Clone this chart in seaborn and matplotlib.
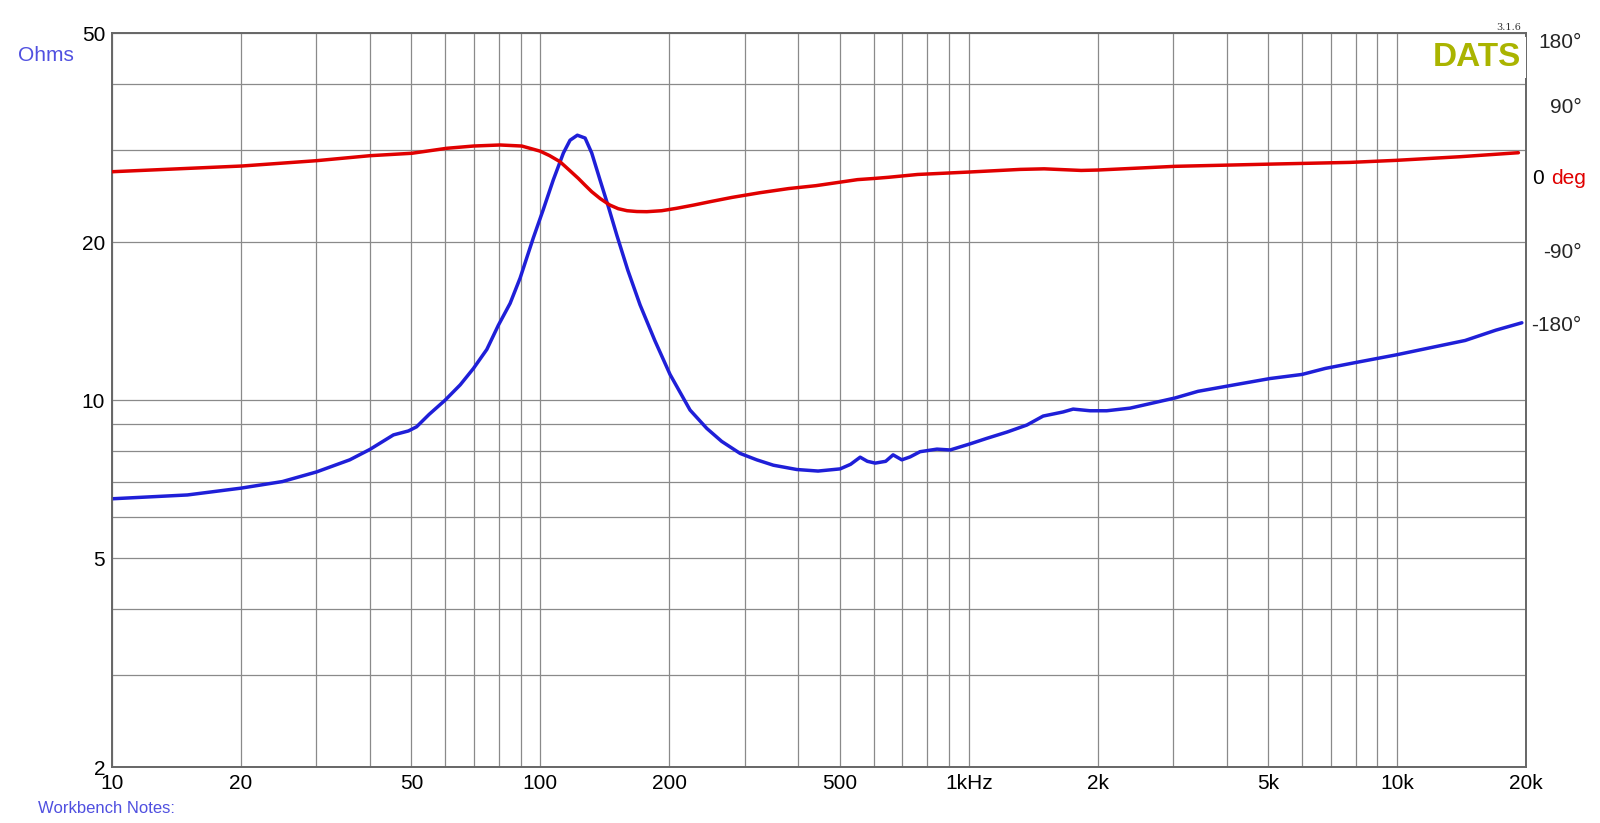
import numpy as np
import pandas as pd
import matplotlib
matplotlib.use("Agg")
import matplotlib.pyplot as plt
import matplotlib.ticker as mticker
import seaborn as sns

# impedance curve (Hz, Ohms)
imp_freq = [10, 15, 20, 25, 30, 35.9, 40, 45.4, 49.2, 51.4, 55, 59.9, 65, 69.8, 75,
            79.8, 85, 89.7, 96.3, 101.6, 107.2, 113.2, 117.3, 122.0, 127.2, 131.8,
            137.8, 144.1, 150.8, 160, 170.9, 185, 200.8, 223.6, 244.6, 265, 292.6,
            320, 350, 396.8, 445, 501, 530, 558, 580, 605, 640, 666, 698, 730, 770,
            843, 905, 1008, 1102, 1230, 1367, 1492, 1661, 1753, 1920, 2100, 2381,
            3030, 3430, 4170, 5050, 6000, 6800, 8000, 9930, 12000, 14420, 17000,
            19560]
imp_ohms = [6.49, 6.6, 6.8, 7.0, 7.3, 7.7, 8.06, 8.59, 8.74, 8.9, 9.4, 10.0, 10.7,
            11.5, 12.5, 13.9, 15.3, 17.1, 20.4, 23.1, 26.3, 29.6, 31.3, 32.0, 31.6,
            29.6, 26.3, 23.4, 20.65, 17.7, 15.2, 13.0, 11.2, 9.58, 8.84, 8.35, 7.92,
            7.7, 7.52, 7.38, 7.33, 7.4, 7.55, 7.79, 7.65, 7.59, 7.65, 7.87, 7.70,
            7.8, 7.98, 8.07, 8.04, 8.26, 8.46, 8.7, 8.97, 9.33, 9.50, 9.62, 9.55,
            9.55, 9.66, 10.1, 10.4, 10.7, 11.0, 11.2, 11.5, 11.8, 12.2, 12.6, 13.0,
            13.6, 14.05]

# phase curve (Hz, degrees)
ph_freq = [10, 20.1, 30, 40, 50.1, 60.5, 69.8, 80.5, 90.5, 99.8, 105, 111.1, 116.5,
           122.6, 127, 131.8, 138, 145.2, 152, 159.4, 168, 177.3, 192, 208, 228,
           249, 280, 326, 380, 440, 550, 600, 650, 760, 1000, 1320, 1500, 1830, 2000,
           3030, 5200, 7775, 9930, 14000, 19200]
ph_deg = [8.4, 15.5, 22.1, 28.3, 31.3, 37.5, 40.3, 41.6, 40.3, 34.0, 28.5, 20.9, 11,
          0.2, -8, -16.4, -25, -32.9, -37.5, -40.0, -41.0, -41.2, -40, -37.0, -33,
          -28.8, -23.5, -17.6, -12.5, -8.9, -1.4, 0, 1.5, 5.0, 8, 11.3, 12, 10,
          10.5, 15.1, 18, 20, 22.5, 27, 32]

x_ticks = [10, 20, 50, 100, 200, 500, 1000, 2000, 5000, 10000, 20000]
x_labels = ["10", "20", "50", "100", "200", "500", "1kHz", "2k", "5k", "10k", "20k"]
y_ticks = [2, 5, 10, 20, 50]
ph_ticks = [-180, -90, 90, 180]
ph_labels = ["-180°", "-90°", "90°", "180°"]

BLUE = "#1f1fd8"
RED = "#e00000"
TXT_BLUE = "#5050e0"
GRID = "#8a8a8a"
FS = 15

sns.set_style("white")
plt.rcParams["font.family"] = ["Liberation Sans", "DejaVu Sans"]

fig = plt.figure(figsize=(16, 8.23), dpi=100)
ax = fig.add_axes([0.07, 0.068, 0.88375, 0.8913])

imp = pd.DataFrame({"freq": imp_freq, "ohms": imp_ohms})
ph = pd.DataFrame({"freq": ph_freq, "deg": ph_deg})

sns.lineplot(data=imp, x="freq", y="ohms", ax=ax, color=BLUE, lw=2.5,
             estimator=None, sort=False, zorder=4, solid_joinstyle="round")
ax.set_xlabel("")
ax.set_ylabel("")

# phase axis
ax2 = ax.twinx()
sns.lineplot(data=ph, x="freq", y="deg", ax=ax2, color=RED, lw=2.5,
             estimator=None, sort=False, zorder=3, solid_joinstyle="round")
ax2.set_ylabel("")
ax2.set_xlabel("")

ax.set_xscale("log")
ax.set_yscale("log")
ax.set_xlim(10, 20000)
ax.set_ylim(2, 50)
ax2.set_ylim(-730.6, 180)

# grid on every log step
ax.xaxis.set_major_locator(mticker.FixedLocator(x_ticks))
ax.xaxis.set_major_formatter(mticker.FixedFormatter(x_labels))
ax.xaxis.set_minor_locator(mticker.LogLocator(base=10, subs=np.arange(1, 10)))
ax.xaxis.set_minor_formatter(mticker.NullFormatter())
ax.yaxis.set_major_locator(mticker.FixedLocator(y_ticks))
ax.yaxis.set_major_formatter(mticker.FixedFormatter([str(v) for v in y_ticks]))
ax.yaxis.set_minor_locator(mticker.LogLocator(base=10, subs=np.arange(1, 10)))
ax.yaxis.set_minor_formatter(mticker.NullFormatter())
ax.grid(True, which="both", color=GRID, lw=0.9)
ax.tick_params(which="both", length=0, labelsize=FS, colors="black")
ax.tick_params(axis="x", pad=5)
ax.tick_params(axis="y", pad=5)
for s in ax.spines.values():
    s.set_color("#666666")
    s.set_linewidth(1.2)

ax2.set_yticks(ph_ticks)
ax2.set_yticklabels(ph_labels)
ax2.tick_params(axis="y", length=0, labelsize=FS, pad=40)
for lab in ax2.get_yticklabels():
    lab.set_horizontalalignment("right")
# top label sits just under the frame edge
ax2.get_yticklabels()[-1].set_verticalalignment("top")
ax2.grid(False)
for s in ax2.spines.values():
    s.set_color("#666666")
    s.set_linewidth(1.2)

ytr = ax2.get_yaxis_transform()
ax2.text(1.0045, 0, "0", transform=ytr, fontsize=FS, ha="left", va="center",
         color="black")
ax2.text(1.0177, 0, "deg", transform=ytr, fontsize=FS, ha="left", va="center",
         color=RED)

# labels and badge
fig.text(0.011, 0.932, "Ohms", fontsize=FS, color=TXT_BLUE, ha="left", va="center")
fig.text(0.024, 0.018, "Workbench Notes:", fontsize=12, color=TXT_BLUE,
         ha="left", va="center")
ax2.text(0.9965, 0.989, "DATS", transform=ax2.transAxes, fontsize=24,
         fontweight="bold", color="#aab400", ha="right", va="top", zorder=10,
         bbox=dict(facecolor="white", edgecolor="none", pad=3.5))
fig.text(0.951, 0.961, "3.1.6", fontsize=7, family="DejaVu Serif",
         color="#333333", ha="right", va="bottom")

fig.savefig("out.png", dpi=100)
